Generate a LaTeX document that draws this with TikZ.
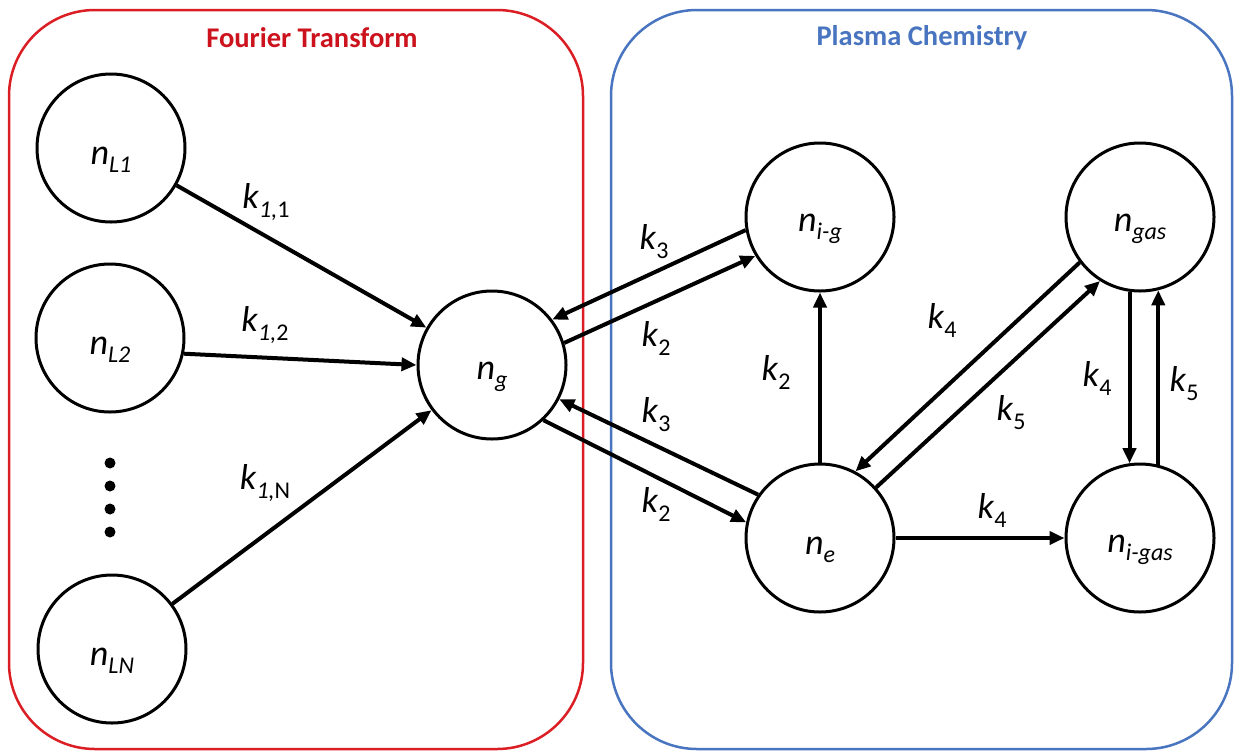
\documentclass[tikz,border=0pt]{standalone}
\usepackage{fontspec}
\setmainfont{Carlito}
\usetikzlibrary{arrows.meta}
\definecolor{ftframe}{RGB}{218,30,36}
\definecolor{fttitle}{RGB}{204,18,28}
\definecolor{pcframe}{RGB}{72,116,192}
\definecolor{pctitle}{RGB}{72,116,192}
% density n with an italic subscript
\newcommand\dens[1]{\textit{n}\raisebox{-8pt}{\fontsize{24}{27}\selectfont\textit{#1}}}
% rate constant k with a subscript
\newcommand\rate[1]{\textit{k}\raisebox{-9pt}{\fontsize{24}{27}\selectfont #1}}
\begin{document}
\begin{tikzpicture}[x=1pt,y=-1pt,
  species/.style={circle,draw,line width=3pt,minimum size=148pt,inner sep=0pt},
  nlabel/.style={inner sep=0pt,font=\fontsize{36}{40}\selectfont},
  klabel/.style={inner sep=0pt,font=\fontsize{36}{40}\selectfont},
  conn/.style={line width=4pt,-{Triangle[length=15pt,width=13pt]}},
  frame/.style={line width=2.5pt,rounded corners=86pt},
  title/.style={font=\fontsize{28.5}{32}\selectfont\bfseries}
]
\useasboundingbox (0,0) rectangle (1239,753);

% group frames and their titles
\draw[frame,ftframe] (9,10) rectangle (583,749);
\draw[frame,pcframe] (611,10) rectangle (1232,749);
\node[title,text=fttitle] (ftt) at (312,38) {Fourier Transform};
\node[title,text=pctitle] (pct) at (922,38) {Plasma Chemistry};

% species
\node[species] (nL1) at (111,148) {};
\node[species] (nL2) at (110,338) {};
\node[species] (nLN) at (112,649) {};
\node[species] (ng) at (492,365) {};
\node[species] (nig) at (820,217) {};
\node[species] (ngas) at (1140,217) {};
\node[species] (ne) at (820,538) {};
\node[species] (nigas) at (1140,538) {};

\node[nlabel] (tL1) at ([yshift=-12pt]nL1.center) {\dens{L1}};
\node[nlabel] (tL2) at ([yshift=-12pt]nL2.center) {\dens{L2}};
\node[nlabel] (tLN) at ([yshift=-12pt]nLN.center) {\dens{LN}};
\node[nlabel] (tg) at ([yshift=-12pt]ng.center) {\dens{g}};
\node[nlabel] (tig) at ([yshift=-12pt]nig.center) {\dens{i-g}};
\node[nlabel] (tgas) at ([yshift=-12pt]ngas.center) {\dens{gas}};
\node[nlabel] (te) at ([yshift=-12pt]ne.center) {\dens{e}};
\node[nlabel] (tigas) at ([yshift=-12pt]nigas.center) {\dens{i-gas}};

% vertical ellipsis between the laser species
\foreach \y in {463,486,509,532} \fill (110,\y) circle (5.5);

% transitions
\draw[conn] (nL1) -- (ng);
\draw[conn] (nL2.-12) -- (ng.180);
\draw[conn] (nLN) -- (ng);
\draw[conn] (nig.190) -- (ng.37);
\draw[conn] (ng.17) -- (nig.211);
\draw[conn] (ne.145) -- (ng.-27);
\draw[conn] (ng.-47) -- (ne.168);
\draw[conn] (ne) -- (nig);
\draw[conn] (ngas.217) -- (ne.62);
\draw[conn] (ne.42) -- (ngas.238);
\draw[conn] (ngas.262) -- (nigas.98);
\draw[conn] (nigas.76) -- (ngas.284);
\draw[conn] (ne) -- (nigas);

% rate constants
\node[klabel] (k11) at (266,202) {\rate{\textit{1,}1}};
\node[klabel] (k12) at (265,325) {\rate{\textit{1,}2}};
\node[klabel] (k1N) at (265,483) {\rate{\textit{1,}N}};
\node[klabel] (k3a) at (654,242) {\rate{3}};
\node[klabel] (k2a) at (656,338) {\rate{2}};
\node[klabel] (k3b) at (656,415) {\rate{3}};
\node[klabel] (k2b) at (656,504) {\rate{2}};
\node[klabel] (k2c) at (776,372) {\rate{2}};
\node[klabel] (k4a) at (942,320) {\rate{4}};
\node[klabel] (k5a) at (1011,413) {\rate{5}};
\node[klabel] (k4b) at (1097,378) {\rate{4}};
\node[klabel] (k5b) at (1184,384) {\rate{5}};
\node[klabel] (k4c) at (992,510) {\rate{4}};
\end{tikzpicture}
\end{document}
